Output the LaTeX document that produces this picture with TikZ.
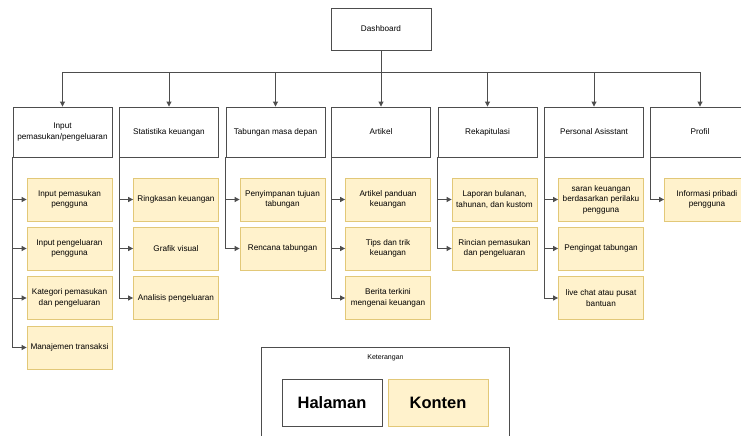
\documentclass[tikz,border=0pt]{standalone}
\usepackage{fontspec}
\setmainfont{Liberation Sans}
\usetikzlibrary{arrows.meta}

\definecolor{kontenfill}{HTML}{FFF2CC}
\definecolor{kontenline}{HTML}{E2C878}
\definecolor{garis}{HTML}{4D4D4D}

\begin{document}
\begin{tikzpicture}[
        x=1pt, y=-1pt,
        halaman/.style={draw=garis, fill=white, line width=0.9pt, minimum width=99pt, minimum height=50pt, inner sep=1pt, align=center, font=\fontsize{8.2}{10.5}\selectfont},
        konten/.style={draw=kontenline, fill=kontenfill, line width=0.8pt, minimum width=85pt, minimum height=43pt, inner sep=1pt, align=center, font=\fontsize{8.2}{10.5}\selectfont},
        panah/.style={draw=garis, line width=0.9pt, -{Triangle[length=5pt,width=5pt]}},
        garis lurus/.style={draw=garis, line width=0.9pt}
    ]
        \useasboundingbox (0,0) rectangle (741,436);
        \clip (0,0) rectangle (741,436);

        % Root page
        \node[halaman, minimum width=100pt, minimum height=42pt] (dash) at (381,29) {Dashboard};
        \coordinate (bus) at (381,72);

        % Pages
        \node[halaman] (h1) at (62.5,132) {Input\\pemasukan/pengeluaran};
        \node[halaman] (h2) at (169,132) {Statistika keuangan};
        \node[halaman] (h3) at (275.5,132) {Tabungan masa depan};
        \node[halaman] (h4) at (381,132) {Artikel};
        \node[halaman] (h5) at (487.5,132) {Rekapitulasi};
        \node[halaman] (h6) at (594,132) {Personal Asisstant};
        \node[halaman] (h7) at (700,132) {Profil};

        % Dashboard to pages
        \draw[garis lurus] (dash.south) -- (bus);
        \draw[panah] (bus) -| (h1.north);
        \draw[panah] (bus) -| (h2.north);
        \draw[panah] (bus) -| (h3.north);
        \draw[panah] (dash.south) -- (h4.north);
        \draw[panah] (bus) -| (h5.north);
        \draw[panah] (bus) -| (h6.north);
        \draw[panah] (bus) -| (h7.north);

        % Content of Input pemasukan/pengeluaran
        \node[konten] (c11) at (69.5,199.5) {Input pemasukan\\pengguna};
        \node[konten] (c12) at (69.5,248.5) {Input pengeluaran\\pengguna};
        \node[konten] (c13) at (69.5,298) {Kategori pemasukan\\dan pengeluaran};
        \node[konten] (c14) at (69.5,347.5) {Manajemen transaksi};

        % Content of Statistika keuangan
        \node[konten] (c21) at (176,199.5) {Ringkasan keuangan};
        \node[konten] (c22) at (176,248.5) {Grafik visual};
        \node[konten] (c23) at (176,298) {Analisis pengeluaran};

        % Content of Tabungan masa depan
        \node[konten] (c31) at (282.5,199.5) {Penyimpanan tujuan\\tabungan};
        \node[konten] (c32) at (282.5,248.5) {Rencana tabungan};

        % Content of Artikel
        \node[konten] (c41) at (388,199.5) {Artikel panduan\\keuangan};
        \node[konten] (c42) at (388,248.5) {Tips dan trik\\keuangan};
        \node[konten] (c43) at (388,298) {Berita terkini\\mengenai keuangan};

        % Content of Rekapitulasi
        \node[konten] (c51) at (494.5,199.5) {Laporan bulanan,\\tahunan, dan kustom};
        \node[konten] (c52) at (494.5,248.5) {Rincian pemasukan\\dan pengeluaran};

        % Content of Personal Asisstant
        \node[konten] (c61) at (601,199.5) {saran keuangan\\berdasarkan perilaku\\pengguna};
        \node[konten] (c62) at (601,248.5) {Pengingat tabungan};
        \node[konten] (c63) at (601,298) {live chat atau pusat\\bantuan};

        % Content of Profil
        \node[konten] (c71) at (707,199.5) {Informasi pribadi\\pengguna};

        % Pages to content
        \draw[panah] (h1.south west) |- (c11.west);
        \draw[panah] (h1.south west) |- (c12.west);
        \draw[panah] (h1.south west) |- (c13.west);
        \draw[panah] (h1.south west) |- (c14.west);
        \draw[panah] (h2.south west) |- (c21.west);
        \draw[panah] (h2.south west) |- (c22.west);
        \draw[panah] (h2.south west) |- (c23.west);
        \draw[panah] (h3.south west) |- (c31.west);
        \draw[panah] (h3.south west) |- (c32.west);
        \draw[panah] (h4.south west) |- (c41.west);
        \draw[panah] (h4.south west) |- (c42.west);
        \draw[panah] (h4.south west) |- (c43.west);
        \draw[panah] (h5.south west) |- (c51.west);
        \draw[panah] (h5.south west) |- (c52.west);
        \draw[panah] (h6.south west) |- (c61.west);
        \draw[panah] (h6.south west) |- (c62.west);
        \draw[panah] (h6.south west) |- (c63.west);
        \draw[panah] (h7.south west) |- (c71.west);

        % Legend
        \node[draw=garis, fill=white, line width=0.9pt, minimum width=248pt, minimum height=100pt, anchor=north west] (legend) at (261,347) {};
        \node[font=\fontsize{7}{8}\selectfont, below=4pt] (ket) at (legend.north) {Keterangan};
        \node[halaman, minimum width=100pt, minimum height=47pt, font=\fontsize{16.5}{19}\selectfont\bfseries] (lh) at (332,402.5) {Halaman};
        \node[konten, minimum width=100pt, minimum height=47pt, font=\fontsize{16.5}{19}\selectfont\bfseries] (lk) at (438,402.5) {Konten};
\end{tikzpicture}
\end{document}
